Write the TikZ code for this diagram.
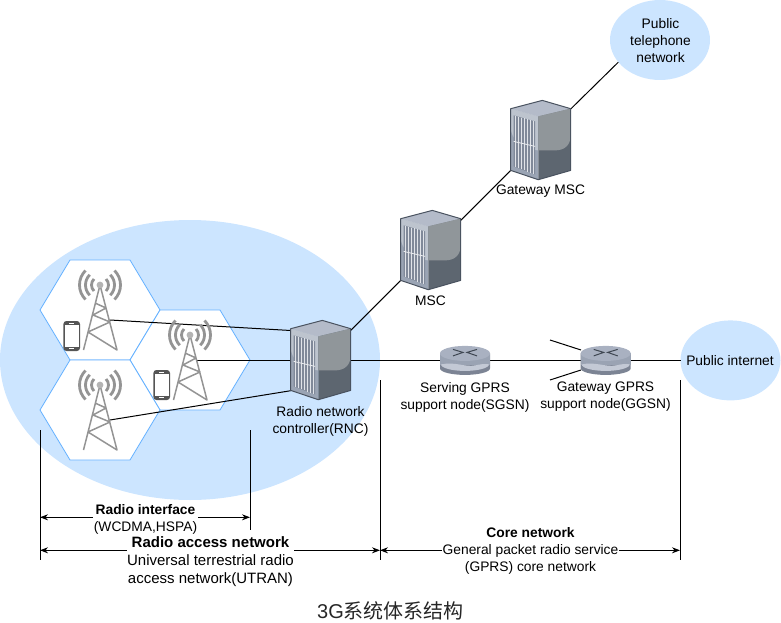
\documentclass[tikz,border=0pt]{standalone}
\usepackage{fontspec}
\setmainfont{Liberation Sans}
\newfontfamily\cjk{Noto Sans CJK SC}
\usetikzlibrary{arrows.meta,shapes.geometric}
\definecolor{cloudblue}{HTML}{CCE5FF}
\definecolor{hexblue}{HTML}{66B2FF}
\definecolor{towergray}{HTML}{949494}
\definecolor{phonegray}{HTML}{555555}
\definecolor{srvedge}{HTML}{4A5360}
\definecolor{srvleft}{HTML}{9AA4B4}
\definecolor{srvtop}{HTML}{B4BBC9}
\definecolor{srvgloss}{HTML}{90969A}
\definecolor{srvdark}{HTML}{5D6670}
\definecolor{srvslot}{HTML}{808999}
\definecolor{rtrdark}{HTML}{7C8494}
\definecolor{rtrbody}{HTML}{9AA3B3}
\definecolor{rtrband}{HTML}{C3C9D5}
\definecolor{rtrtop}{HTML}{A9B1C1}
\tikzset{
  txt/.style={font=\fontsize{13.8}{17}\selectfont,align=center,inner sep=0pt},
  netcloud/.style={ellipse,fill=cloudblue,inner sep=0pt,outer sep=0pt,minimum width=100pt,minimum height=80pt},
  srvbox/.style={rectangle,inner sep=0pt,outer sep=0pt,minimum width=60pt,minimum height=80pt},
  rtrbox/.style={rectangle,inner sep=0pt,outer sep=0pt,minimum width=50pt,minimum height=30pt},
  twrbox/.style={rectangle,inner sep=0pt,outer sep=0pt,minimum width=34pt,minimum height=65pt},
  dimline/.style={line width=1pt},
  dimarrow/.style={line width=1pt,{Stealth[length=8pt,width=6pt]}-{Stealth[length=8pt,width=6pt]}},
  dimlabel/.style={txt,fill=white,inner xsep=0.5pt,inner ysep=0.5pt},
  conn/.style={line width=1pt},
  cellhex/.pic={
    \draw[hexblue,fill=white,line width=0.8pt] (-60,0)--(-30,-50)--(30,-50)--(60,0)--(30,50)--(-30,50)--cycle;
  },
  towerpic/.pic={
    \draw[towergray,line width=1.5pt,line join=round] (-16.5,65)--(0,0)--(17,65)--(-12,47)--(10,37)--(-7,30)--(6,23)--(-5,18);
    \foreach \r in {8.5,14.5,20.5}{
      \draw[towergray,line width=2.8pt] (-45:\r) arc[start angle=-45,end angle=45,radius=\r];
      \draw[towergray,line width=2.8pt] (135:\r) arc[start angle=135,end angle=225,radius=\r];
    }
    \fill[towergray!70!white] (0,0) circle (3.4);
  },
  phonepic/.pic={
    \fill[phonegray,rounded corners=3pt] (-8.3,-15)rectangle(8.3,15);
    \fill[white] (-6.8,-11)rectangle(6.8,10.5);
    \fill[white] (-2.5,-13.4)rectangle(2.5,-12.6);
    \fill[white] (-2.5,12.4)rectangle(2.5,13.2);
  },
  serverpic/.pic={
    \fill[srvleft] (-30,-31.7)--(-2.4,-24)--(-2.4,39.3)--(-30,30)--cycle;
    \fill[srvleft!65!white] (-30,-31.7)--(-2.4,-24)--(-2.4,10) .. controls (-18,8) and (-30,0) .. (-30,-14)--cycle;
    \fill[srvtop] (-30,-31.7)--(1.6,-40)--(30,-31.7)--(-2.4,-24)--cycle;
    \fill[srvdark] (-2.4,-24)--(30,-31.7)--(30,30)--(-2.4,39.3)--cycle;
    \fill[srvgloss] (-2.4,-24)--(30,-31.7)--(30,-6) .. controls (30,5) and (24,10) .. (14,10)--(-2.4,10)--cycle;
    \fill[srvslot] (-27,-25)--(-5.6,-19)--(-5.6,34)--(-27,26)--cycle;
    \foreach \i in {0,...,6}{
      \draw[white!70!srvleft,line width=1.1pt] (-25.5+3.1*\i,{-24.6+0.86*\i})--(-25.5+3.1*\i,{26.6+1.14*\i});
    }
    \draw[white!80!srvleft,line width=0.8pt] (-27,1)--(-5.6,6);
    \draw[srvedge,line width=1pt,line join=round] (-30,-31.7)--(1.6,-40)--(30,-31.7)--(30,30)--(-2.4,39.3)--(-30,30)--cycle;
  },
  routerpic/.pic={
    \fill[rtrdark] (-25,-7)--(25,-7)--(25,8) arc[start angle=0,end angle=180,x radius=25,y radius=6.5]--cycle;
    \fill[rtrbody] (-25,-7)--(25,-7)--(25,5)--(-25,5)--cycle;
    \fill[rtrband] (-24,4) .. controls (-10,1) and (0,7) .. (10,5) .. controls (15,4) and (20,3) .. (24,4) arc[start angle=0,end angle=180,x radius=24,y radius=6.5]--cycle;
    \fill[rtrtop] (0,-7) ellipse[x radius=25,y radius=7.5];
    \draw[srvedge!85!black,line width=1pt] (-12,-11)--(-2,-8)--(-12,-4.5) (12,-11)--(2,-8)--(12,-4.5);
  }
}
\begin{document}
\begin{tikzpicture}[x=1pt,y=-1pt]
\useasboundingbox (0,0) rectangle (781,623);
% big radio access cloud
\node[ellipse,fill=cloudblue,inner sep=0pt,outer sep=0pt,minimum width=380pt,minimum height=280pt] (radiocloud) at (190,360) {};
% cells
\pic at (100,310) {cellhex};
\pic at (190,360) {cellhex};
\pic at (100,410) {cellhex};
% boxes of the elements
\node[srvbox] (rnc) at (320.7,360.4) {};
\node[srvbox] (msc) at (430.7,250.4) {};
\node[srvbox] (gmsc) at (540.7,140.4) {};
\node[rtrbox] (sgsn) at (465,360.4) {};
\node[rtrbox] (ggsn) at (605.7,360.4) {};
\node[netcloud] (pubphone) at (660,40) {};
\node[netcloud] (pubnet) at (730.5,360.4) {};
\node[txt] (pubphonelabel) at (660.5,40.5) {Public\\telephone\\network};
\node[txt] (pubnetlabel) at (730,361) {Public internet};
\node[twrbox] (towerA) at (100,317.5) {};
\node[twrbox] (towerB) at (190,367.5) {};
\node[twrbox] (towerC) at (100,417.5) {};
% ports
\coordinate (towerAport) at (110,320);
\coordinate (towerBport) at (196.7,360);
\coordinate (towerCport) at (110,420);
\coordinate (rncA) at (290.7,330.5);
\coordinate (rncB) at (290.7,360);
\coordinate (rncC) at (290.7,390.7);
\coordinate (gmscport) at (570.7,109);
\coordinate (stubA) at (550,340);
\coordinate (stubB) at (550,380);
\coordinate (ggsnA) at (581,350);
\coordinate (ggsnB) at (581,370);
% connectors
\draw[conn] (towerAport) -- (rncA);
\draw[conn] (towerBport) -- (rncB);
\draw[conn] (towerCport) -- (rncC);
\draw[conn] (rnc) -- (msc);
\draw[conn] (msc) -- (gmsc);
\draw[conn] (gmscport) -- (pubphone.208);
\draw[conn] (rnc) -- (sgsn);
\draw[conn] (sgsn) -- (ggsn);
\draw[conn] (ggsn) -- (pubnet);
\draw[conn] (stubA) -- (ggsnA);
\draw[conn] (stubB) -- (ggsnB);
% icons
\pic at (100,285) {towerpic};
\pic at (190,335) {towerpic};
\pic at (100,385) {towerpic};
\pic at (71.7,336) {phonepic};
\pic at (161.7,385) {phonepic};
\pic at (rnc) {serverpic};
\pic at (msc) {serverpic};
\pic at (gmsc) {serverpic};
\pic at (sgsn) {routerpic};
\pic at (ggsn) {routerpic};
% element labels
\node[txt] (rnclabel) at (320.5,421) {Radio network\\controller(RNC)};
\node[txt] (msclabel) at (430.5,301) {MSC};
\node[txt] (gmsclabel) at (540.5,191) {Gateway MSC};
\node[txt] (sgsnlabel) at (465,397) {Serving GPRS\\support node(SGSN)};
\node[txt] (ggsnlabel) at (605.5,397) {Gateway GPRS\\support node(GGSN)};
% dimension ticks
\coordinate (tickAtop) at (40,430);
\coordinate (tickAend) at (40,560);
\coordinate (tickBtop) at (250,430);
\coordinate (tickBend) at (250,530);
\coordinate (tickCtop) at (380,380);
\coordinate (tickCend) at (380,560);
\coordinate (tickDtop) at (680,380);
\coordinate (tickDend) at (680,560);
\draw[dimline] (tickAtop) -- (tickAend);
\draw[dimline] (tickBtop) -- (tickBend);
\draw[dimline] (tickCtop) -- (tickCend);
\draw[dimline] (tickDtop) -- (tickDend);
\coordinate (ifaceL) at (40,517.3);
\coordinate (ifaceR) at (250,517.3);
\coordinate (ranL) at (40,550.3);
\coordinate (ranR) at (380,550.3);
\coordinate (coreL) at (380,550.3);
\coordinate (coreR) at (680,550.3);
\draw[dimarrow] (ifaceL) -- (ifaceR);
\draw[dimarrow] (ranL) -- (ranR);
\draw[dimarrow] (coreL) -- (coreR);
\node[dimlabel] (ifacelabel) at (145.5,519) {\textbf{Radio interface}\\(WCDMA,HSPA)};
\node[dimlabel,font=\fontsize{15}{17.7}\selectfont] (ranlabel) at (210.5,561.5) {\textbf{Radio access network}\\Universal terrestrial radio\\access network(UTRAN)};
\node[dimlabel] (corelabel) at (530.5,551) {\textbf{Core network}\\General packet radio service\\(GPRS) core network};
\node[inner sep=0pt,text=black!85,font=\fontsize{20}{24}\selectfont] (title) at (390.5,610.5) {3G{\cjk 系统体系结构}};
\end{tikzpicture}
\end{document}
